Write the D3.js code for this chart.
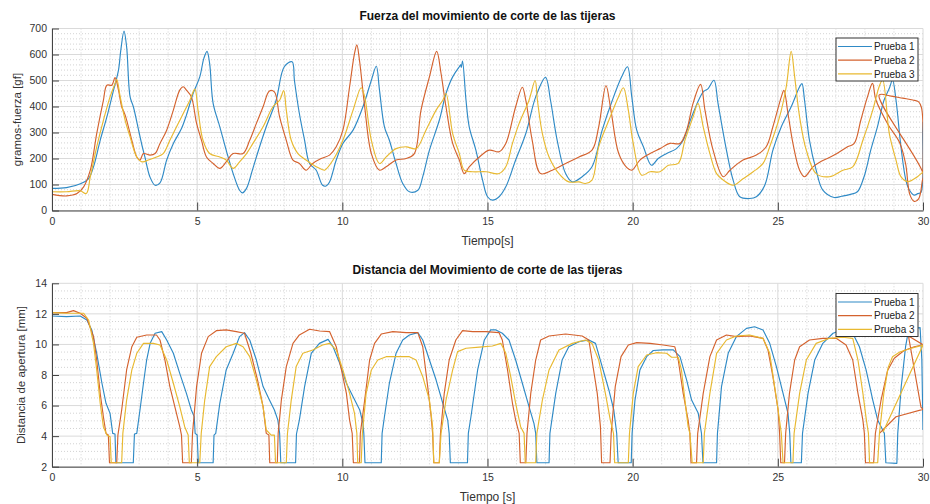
<!DOCTYPE html>
<html><head><meta charset="utf-8">
<script src="https://cdn.jsdelivr.net/npm/d3@7"></script>
<style>body{margin:0;background:#fff}svg{display:block;font-family:"Liberation Sans",Arial,Helvetica,sans-serif}</style>
</head><body><svg id="c" width="930" height="504"></svg>
<script>
// ---------- data ----------
const seriesNames = ["Prueba 1", "Prueba 2", "Prueba 3"];
const xTicks = [0, 5, 10, 15, 20, 25, 30];
const fuerzaTicks = [0, 100, 200, 300, 400, 500, 600, 700];
const distTicks = [2, 4, 6, 8, 10, 12, 14];

// Fuerza [gf] vs tiempo [s]  -> [t, value]
const fuerzaP1 = [[0,85],[0.5,88],[1.0,104],[1.26,123],[1.43,168],[1.66,270],[1.89,360],[2.12,463],[2.29,540],[2.37,617],[2.48,690],[2.57,630],[2.69,437],[2.8,400],[3.0,300],[3.1,250],[3.2,206],[3.37,130],[3.55,97],[3.72,106],[3.95,194],[4.18,258],[4.46,315],[4.63,367],[4.86,450],[5.09,514],[5.23,585],[5.34,612],[5.43,565],[5.55,412],[5.78,322],[6.0,232],[6.24,142],[6.46,78],[6.56,68],[6.7,85],[6.92,162],[7.15,245],[7.38,322],[7.72,424],[8.0,553],[8.27,572],[8.35,500],[8.52,373],[8.7,270],[8.87,181],[9.1,155],[9.32,97],[9.44,94],[9.56,110],[9.79,194],[10.02,258],[10.37,309],[10.71,399],[11.0,501],[11.17,555],[11.28,463],[11.45,322],[11.62,270],[11.85,181],[12.08,104],[12.31,72],[12.6,78],[12.77,130],[13.0,232],[13.34,347],[13.57,450],[13.8,514],[14.03,553],[14.08,560],[14.1,550],[14.14,575],[14.26,424],[14.37,322],[14.6,232],[14.83,117],[15.0,53],[15.17,40],[15.4,53],[15.63,91],[15.97,194],[16.32,296],[16.66,437],[17.0,512],[17.17,424],[17.4,270],[17.69,142],[17.92,110],[18.26,130],[18.6,168],[18.95,309],[19.3,424],[19.62,514],[19.82,553],[19.97,437],[20.14,309],[20.37,245],[20.65,174],[20.88,200],[21.17,219],[21.51,238],[21.74,270],[22.03,360],[22.43,456],[22.6,469],[22.8,501],[22.94,412],[23.23,232],[23.46,117],[23.69,53],[24.03,46],[24.26,53],[24.55,97],[24.83,232],[25.12,322],[25.46,399],[25.75,476],[25.83,488],[25.92,424],[26.09,270],[26.32,155],[26.55,78],[26.94,50],[27.2,55],[27.5,62],[27.74,72],[27.97,130],[28.2,232],[28.43,322],[28.66,425],[28.84,470],[28.95,502],[29.07,425],[29.24,245],[29.41,117],[29.53,79],[29.7,59],[29.82,65],[29.93,70],[29.99,309],[30,341]];
const fuerzaP2 = [[0,62],[0.5,56],[0.86,65],[1.09,91],[1.32,155],[1.54,296],[1.77,424],[1.89,482],[2.06,482],[2.17,511],[2.29,463],[2.4,399],[2.52,367],[2.75,270],[2.92,206],[3.03,194],[3.15,219],[3.38,213],[3.55,219],[3.72,258],[3.95,309],[4.18,386],[4.4,463],[4.52,476],[4.63,463],[4.8,437],[4.98,335],[5.15,270],[5.32,206],[5.55,181],[5.78,162],[6.0,187],[6.24,219],[6.58,219],[6.81,270],[7.04,335],[7.27,399],[7.49,460],[7.66,456],[7.84,360],[8.07,270],[8.3,194],[8.52,181],[8.75,155],[8.98,181],[9.27,200],[9.56,213],[9.79,245],[10.02,309],[10.25,476],[10.42,604],[10.5,637],[10.59,578],[10.77,399],[11.0,219],[11.28,155],[11.51,168],[11.85,194],[12.2,200],[12.48,219],[12.71,386],[13.0,514],[13.25,612],[13.4,527],[13.57,399],[13.8,258],[14.03,194],[14.2,142],[14.37,168],[14.72,206],[15.06,232],[15.4,226],[15.63,258],[15.97,399],[16.2,474],[16.32,424],[16.54,270],[16.83,142],[17.23,155],[17.69,181],[18.15,206],[18.6,232],[18.83,322],[19.08,480],[19.25,386],[19.52,219],[19.8,165],[19.97,155],[20.25,194],[20.6,219],[20.94,238],[21.28,258],[21.63,258],[21.86,309],[22.08,412],[22.34,485],[22.49,386],[22.77,232],[23.12,130],[23.35,155],[23.8,194],[24.26,213],[24.6,245],[24.83,322],[25.12,437],[25.21,462],[25.35,373],[25.52,258],[25.75,155],[25.92,130],[26.21,168],[26.48,188],[26.94,213],[27.4,245],[27.63,258],[27.86,348],[28.09,438],[28.26,489],[28.38,425],[28.8,330],[29.2,260],[29.4,180],[29.55,60],[29.7,35],[29.85,45],[29.97,110],[30.0,143],[28.49,444],[28.9,440],[29.3,432],[29.65,425],[29.85,418],[29.95,395],[30.0,150]];
const fuerzaP3 = [[0,72],[0.5,72],[0.97,76],[1.18,65],[1.32,130],[1.54,245],[1.77,347],[2.0,437],[2.17,488],[2.23,505],[2.35,437],[2.52,347],[2.69,283],[2.92,206],[3.1,187],[3.32,194],[3.6,206],[3.83,219],[4.06,270],[4.29,322],[4.52,373],[4.75,424],[4.92,467],[5.03,386],[5.2,270],[5.43,219],[5.78,206],[6.0,194],[6.24,162],[6.46,187],[6.7,219],[6.92,258],[7.27,322],[7.61,399],[7.84,424],[7.98,461],[8.07,386],[8.24,270],[8.47,219],[8.75,194],[9.1,168],[9.3,158],[9.39,155],[9.68,194],[10.02,270],[10.37,386],[10.65,472],[10.77,437],[11.0,270],[11.28,181],[11.51,206],[11.85,238],[12.2,245],[12.54,238],[12.88,309],[13.23,386],[13.46,424],[13.57,450],[13.8,296],[14.03,219],[14.2,155],[14.49,149],[14.95,149],[15.4,142],[15.63,168],[15.86,258],[16.09,335],[16.43,424],[16.64,500],[16.72,424],[16.89,296],[17.12,206],[17.46,142],[17.8,110],[18.15,110],[18.37,104],[18.6,117],[18.83,245],[19.18,347],[19.51,437],[19.68,472],[19.85,386],[20.02,258],[20.31,136],[20.6,149],[20.94,149],[21.23,174],[21.57,181],[21.8,270],[22.08,360],[22.25,412],[22.43,322],[22.66,219],[22.89,142],[23.12,117],[23.46,97],[23.8,122],[24.15,149],[24.49,181],[24.72,245],[25.06,360],[25.29,476],[25.46,612],[25.58,514],[25.75,360],[25.98,232],[26.32,142],[26.78,130],[27.24,155],[27.58,168],[27.93,270],[28.27,386],[28.5,480],[28.61,502],[28.84,296],[29.07,194],[29.24,130],[29.47,111],[29.81,130],[30,149]];

// Distancia de apertura [mm] vs tiempo [s]  -> [t, value]
const distP1 = [[0,11.86],[0.5,11.82],[0.97,11.86],[1.2,11.6],[1.37,10.95],[1.54,9.42],[1.72,7.46],[1.86,6.15],[2.0,5.49],[2.09,4.18],[2.17,4.14],[2.2,2.26],[2.8,2.26],[2.84,4.14],[2.92,4.18],[3.03,5.71],[3.15,7.46],[3.26,8.98],[3.38,10.07],[3.55,10.73],[3.78,10.84],[3.95,10.29],[4.18,9.42],[4.4,8.11],[4.63,6.8],[4.8,5.71],[4.9,5.27],[4.93,4.18],[5.0,4.07],[5.04,2.26],[5.55,2.26],[5.58,4.07],[5.64,4.18],[5.78,6.15],[6.0,8.33],[6.24,9.42],[6.46,10.51],[6.63,10.77],[6.81,10.29],[7.04,8.98],[7.27,7.24],[7.49,6.36],[7.66,5.71],[7.78,5.05],[7.84,4.18],[7.88,2.26],[8.39,2.26],[8.42,4.14],[8.52,5.05],[8.7,7.24],[8.93,9.42],[9.21,10.07],[9.51,10.33],[9.68,9.85],[9.91,8.76],[10.14,7.46],[10.37,6.58],[10.6,5.71],[10.71,4.84],[10.74,4.18],[10.78,2.26],[11.34,2.26],[11.37,4.18],[11.45,5.27],[11.62,7.46],[11.85,9.42],[12.08,10.29],[12.31,10.62],[12.6,10.77],[12.77,10.29],[13.0,8.98],[13.23,7.67],[13.46,6.15],[13.63,5.05],[13.68,4.18],[13.72,2.26],[14.31,2.26],[14.34,4.18],[14.43,5.27],[14.66,8.33],[14.89,10.29],[15.11,10.95],[15.29,10.95],[15.51,10.73],[15.74,10.29],[15.97,8.98],[16.2,7.46],[16.43,5.93],[16.6,4.84],[16.66,4.18],[16.7,2.26],[17.12,2.26],[17.15,4.18],[17.35,6.8],[17.57,8.98],[17.8,9.85],[18.15,10.18],[18.49,10.29],[18.72,10.07],[18.95,8.55],[19.18,7.02],[19.35,5.71],[19.45,4.18],[19.5,2.26],[19.95,2.26],[19.98,4.18],[20.08,6.36],[20.25,8.33],[20.48,9.2],[20.71,9.6],[21.05,9.64],[21.4,9.64],[21.63,9.2],[21.86,7.67],[22.03,6.36],[22.26,5.49],[22.37,4.18],[22.42,2.26],[22.89,2.26],[22.92,4.18],[23.06,7.24],[23.29,9.42],[23.57,10.51],[23.92,11.05],[24.2,11.16],[24.49,10.95],[24.72,10.07],[24.95,8.55],[25.18,6.8],[25.35,5.49],[25.41,4.18],[25.45,2.26],[25.81,2.26],[25.85,4.18],[26.04,6.8],[26.27,8.98],[26.55,10.07],[26.9,10.73],[27.24,10.95],[27.58,10.73],[27.81,9.85],[28.04,8.33],[28.27,6.36],[28.44,5.05],[28.67,4.18],[28.72,2.26],[29.1,2.22],[29.13,4.18],[29.25,7.24],[29.4,9.85],[29.5,10.9],[29.7,11.05],[29.9,11.1],[29.96,9.0],[30,4.4]];
const distP2 = [[0,12.08],[0.5,12.08],[0.74,12.21],[0.97,12.04],[1.2,11.71],[1.43,10.51],[1.54,8.98],[1.66,6.8],[1.77,5.27],[1.86,4.18],[1.94,4.07],[1.98,2.26],[2.23,2.26],[2.27,4.07],[2.4,5.71],[2.57,8.33],[2.75,9.85],[2.92,10.47],[3.26,10.62],[3.6,10.62],[3.72,10.29],[3.89,8.98],[4.06,7.24],[4.23,5.93],[4.4,4.62],[4.46,4.07],[4.5,2.26],[4.8,2.26],[4.84,4.18],[4.98,7.24],[5.15,9.42],[5.38,10.51],[5.66,10.9],[6.0,10.95],[6.35,10.84],[6.63,10.73],[6.85,9.42],[7.08,7.67],[7.27,5.93],[7.38,4.18],[7.47,4.07],[7.5,2.26],[7.76,2.26],[7.79,4.18],[7.9,6.36],[8.07,8.55],[8.3,10.07],[8.52,10.62],[8.87,10.99],[9.22,10.88],[9.56,10.84],[9.79,9.85],[9.97,8.33],[10.14,6.8],[10.25,5.05],[10.34,4.18],[10.38,2.26],[10.59,2.26],[10.62,4.18],[10.77,6.36],[10.94,8.98],[11.11,10.07],[11.34,10.68],[11.74,10.84],[12.2,10.77],[12.6,10.77],[12.77,9.85],[12.94,7.24],[13.06,5.27],[13.11,4.18],[13.15,2.26],[13.34,2.26],[13.38,4.18],[13.51,6.8],[13.68,8.98],[13.91,10.29],[14.14,10.9],[14.49,10.84],[14.95,10.84],[15.4,10.77],[15.51,10.29],[15.69,8.33],[15.86,6.15],[15.97,5.05],[16.09,4.18],[16.13,2.26],[16.32,2.26],[16.36,4.18],[16.49,6.8],[16.66,8.98],[16.83,10.29],[17.12,10.55],[17.69,10.68],[18.26,10.55],[18.49,10.29],[18.6,8.98],[18.78,6.8],[18.89,4.62],[18.93,2.26],[19.22,2.26],[19.26,4.18],[19.4,7.24],[19.6,9.2],[19.85,9.96],[20.14,10.12],[20.6,10.07],[21.05,9.96],[21.45,9.85],[21.57,8.98],[21.74,6.8],[21.91,5.05],[21.97,4.18],[22.01,2.26],[22.2,2.26],[22.24,4.18],[22.43,6.8],[22.66,9.2],[22.89,10.29],[23.23,10.62],[23.57,10.51],[24.03,10.55],[24.49,10.4],[24.66,9.64],[24.83,7.89],[25.01,5.71],[25.06,4.18],[25.1,2.26],[25.23,2.26],[25.27,4.18],[25.4,6.8],[25.58,8.98],[25.75,9.85],[26.09,10.29],[26.55,10.4],[27.01,10.4],[27.35,9.96],[27.58,8.98],[27.76,6.8],[27.93,5.05],[27.98,4.18],[28.02,2.26],[28.3,2.26],[28.36,4.18],[28.55,6.3],[28.78,8.3],[29.01,9.1],[29.35,9.6],[29.7,9.85],[30,9.98],[29.5,10.55],[29.93,5.9],[30,5.75],[29.07,5.27],[28.5,4.18]];
const distP3 = [[0,12.08],[0.5,12.04],[1.09,12.04],[1.26,11.6],[1.43,10.07],[1.54,8.33],[1.66,6.15],[1.77,4.62],[1.89,4.07],[2.0,3.96],[2.04,2.26],[2.4,2.26],[2.44,4.18],[2.57,6.36],[2.75,8.33],[2.92,9.42],[3.15,10.07],[3.49,10.07],[3.72,9.96],[3.95,8.98],[4.18,7.46],[4.4,5.93],[4.57,4.62],[4.69,4.07],[4.73,2.26],[5.09,2.26],[5.14,4.18],[5.26,6.36],[5.43,8.55],[5.66,9.2],[6.0,9.85],[6.35,10.07],[6.58,9.85],[6.81,9.2],[7.04,7.67],[7.27,5.93],[7.38,4.4],[7.55,4.07],[7.66,4.07],[7.7,2.26],[8.07,2.26],[8.11,4.18],[8.24,6.36],[8.41,8.55],[8.64,9.42],[8.98,9.64],[9.32,9.96],[9.56,10.07],[9.79,9.64],[10.02,8.33],[10.25,6.8],[10.42,5.49],[10.5,4.18],[10.53,2.26],[10.65,2.26],[10.69,4.18],[10.82,6.8],[11.0,8.33],[11.22,8.98],[11.51,9.2],[11.97,9.2],[12.31,9.2],[12.54,8.98],[12.77,7.89],[13.0,6.36],[13.11,4.62],[13.15,2.26],[13.34,2.26],[13.4,4.18],[13.57,6.36],[13.8,8.33],[13.97,9.53],[14.26,9.75],[14.72,9.82],[15.17,9.9],[15.46,10.07],[15.63,9.42],[15.8,7.89],[15.97,6.15],[16.14,4.62],[16.26,4.18],[16.3,2.26],[16.66,2.26],[16.7,4.18],[16.89,6.36],[17.12,8.33],[17.46,9.64],[17.92,10.07],[18.37,10.29],[18.6,10.07],[18.83,8.98],[19.06,6.8],[19.23,5.05],[19.34,4.18],[19.38,2.26],[19.85,2.26],[19.89,4.18],[20.02,6.8],[20.19,8.55],[20.48,9.31],[20.82,9.46],[21.17,9.42],[21.34,9.16],[21.57,9.16],[21.68,8.33],[21.8,6.36],[21.91,4.62],[21.97,4.18],[22.05,2.26],[22.43,2.26],[22.47,4.18],[22.66,6.8],[22.89,9.42],[23.23,10.29],[23.57,10.55],[24.03,10.62],[24.49,10.4],[24.72,9.42],[24.89,7.24],[25.01,5.71],[25.12,4.18],[25.18,2.26],[25.52,2.26],[25.56,4.18],[25.75,6.8],[25.98,8.98],[26.32,10.07],[26.78,10.4],[27.24,10.47],[27.58,10.4],[27.76,8.98],[27.93,6.8],[28.05,5.05],[28.12,4.18],[28.16,2.26],[28.44,2.26],[28.5,4.18],[28.65,6.8],[28.8,8.5],[28.95,9.2],[29.2,9.5],[29.6,9.75],[30,9.96],[28.62,4.25]];

// ---------- drawing ----------
const colors = ["#2f8ac6", "#d4622e", "#e8b930"];
const svg = d3.select("#c");
const FONT = '"Liberation Sans",Arial,Helvetica,sans-serif';

function panel(o) {
  const x = d3.scaleLinear().domain([0, 30]).range([52, 923]);
  const y = d3.scaleLinear().domain(o.yDomain).range([o.bottom, o.top]);
  const g = svg.append("g");
  const clipId = "clip" + o.id;
  svg.append("clipPath").attr("id", clipId).append("rect")
    .attr("x", 52).attr("y", o.top).attr("width", 871).attr("height", o.bottom - o.top);

  // minor grid
  const xMinor = d3.range(0, 30.001, 1).filter(v => v % 5 !== 0);
  const yMinor = d3.range(o.yDomain[0], o.yDomain[1] + 1e-9, o.yMinorStep).filter(v => !o.yTicks.some(t => Math.abs(t - v) < 1e-9));
  const gm = g.append("g").attr("stroke", "#c8c8c8").attr("stroke-width", 0.8).attr("stroke-dasharray", "1,2");
  gm.selectAll("line.vx").data(xMinor).join("line").attr("x1", d => x(d)).attr("x2", d => x(d)).attr("y1", o.top).attr("y2", o.bottom);
  gm.selectAll("line.hy").data(yMinor).join("line").attr("y1", d => y(d)).attr("y2", d => y(d)).attr("x1", 52).attr("x2", 923);
  // major grid
  const gM = g.append("g").attr("stroke", "#dadada").attr("stroke-width", 1);
  gM.selectAll("line.vx").data(xTicks).join("line").attr("x1", d => x(d)).attr("x2", d => x(d)).attr("y1", o.top).attr("y2", o.bottom);
  gM.selectAll("line.hy").data(o.yTicks).join("line").attr("y1", d => y(d)).attr("y2", d => y(d)).attr("x1", 52).attr("x2", 923);

  // series
  const line = d3.line().x(d => x(d[0])).y(d => y(d[1])).curve(o.curve);
  const gl = g.append("g").attr("clip-path", `url(#${clipId})`);
  o.series.forEach((s, i) => {
    gl.append("path").attr("d", line(s)).attr("fill", "none")
      .attr("stroke", colors[i]).attr("stroke-width", 1.15).attr("stroke-linejoin", "round");
  });

  // axes
  const ax = g.append("g").attr("transform", `translate(0,${o.bottom})`)
    .call(d3.axisBottom(x).tickValues(xTicks).tickSize(-8).tickSizeOuter(0).tickPadding(7));
  const ay = g.append("g").attr("transform", `translate(52,0)`)
    .call(d3.axisLeft(y).tickValues(o.yTicks).tickSize(-7).tickSizeOuter(0).tickPadding(5));
  [ax, ay].forEach(a => {
    a.select(".domain").attr("stroke", "#444").attr("stroke-width", 1);
    a.selectAll(".tick line").attr("stroke", "#444");
    a.selectAll(".tick text").attr("fill", "#333").style("font-size", "10.5px").style("font-family", FONT);
  });

  // title
  g.append("text").attr("x", 487.5).attr("y", o.top - 9).attr("text-anchor", "middle")
    .style("font-weight", "bold").style("font-size", "12px").attr("fill", "#111").text(o.title);
  // x label
  g.append("text").attr("x", 487.5).attr("y", o.bottom + 34).attr("text-anchor", "middle")
    .style("font-size", "12px").attr("fill", "#333").text(o.xLabel);
  // y label
  g.append("text").attr("transform", `translate(${o.yLabelX},${(o.top + o.bottom) / 2}) rotate(-90)`)
    .attr("text-anchor", "middle").style("font-size", "11.5px").attr("fill", "#333").text(o.yLabel);

  // legend
  const lg = g.append("g").attr("transform", `translate(836,${o.legTop})`);
  lg.append("rect").attr("width", 82).attr("height", 43).attr("fill", "#fff").attr("stroke", "#333").attr("stroke-width", 1);
  seriesNames.forEach((n, i) => {
    const yy = 8.5 + i * 13.7;
    lg.append("line").attr("x1", 2).attr("x2", 36).attr("y1", yy).attr("y2", yy).attr("stroke", colors[i]).attr("stroke-width", 1.2);
    lg.append("text").attr("x", 38).attr("y", yy + 3.6).style("font-size", "10px").attr("fill", "#222").text(n);
  });
}

panel({id: 1, top: 28.5, bottom: 210.5, yDomain: [0, 700], yTicks: fuerzaTicks, yMinorStep: 20,
  series: [fuerzaP1, fuerzaP2, fuerzaP3], title: "Fuerza del movimiento de corte de las tijeras",
  xLabel: "Tiempo[s]", yLabel: "gramos-fuerza [gf]", yLabelX: 21, legTop: 38,
  curve: d3.curveCatmullRom.alpha(0.5)});
panel({id: 2, top: 283.3, bottom: 466.7, yDomain: [2, 14], yTicks: distTicks, yMinorStep: 0.5,
  series: [distP1, distP2, distP3], title: "Distancia del Movimiento de corte de las tijeras",
  xLabel: "Tiempo [s]", yLabel: "Distancia de apertura [mm]", yLabelX: 25, legTop: 293.5,
  curve: d3.curveLinear});
</script>
</body></html>
